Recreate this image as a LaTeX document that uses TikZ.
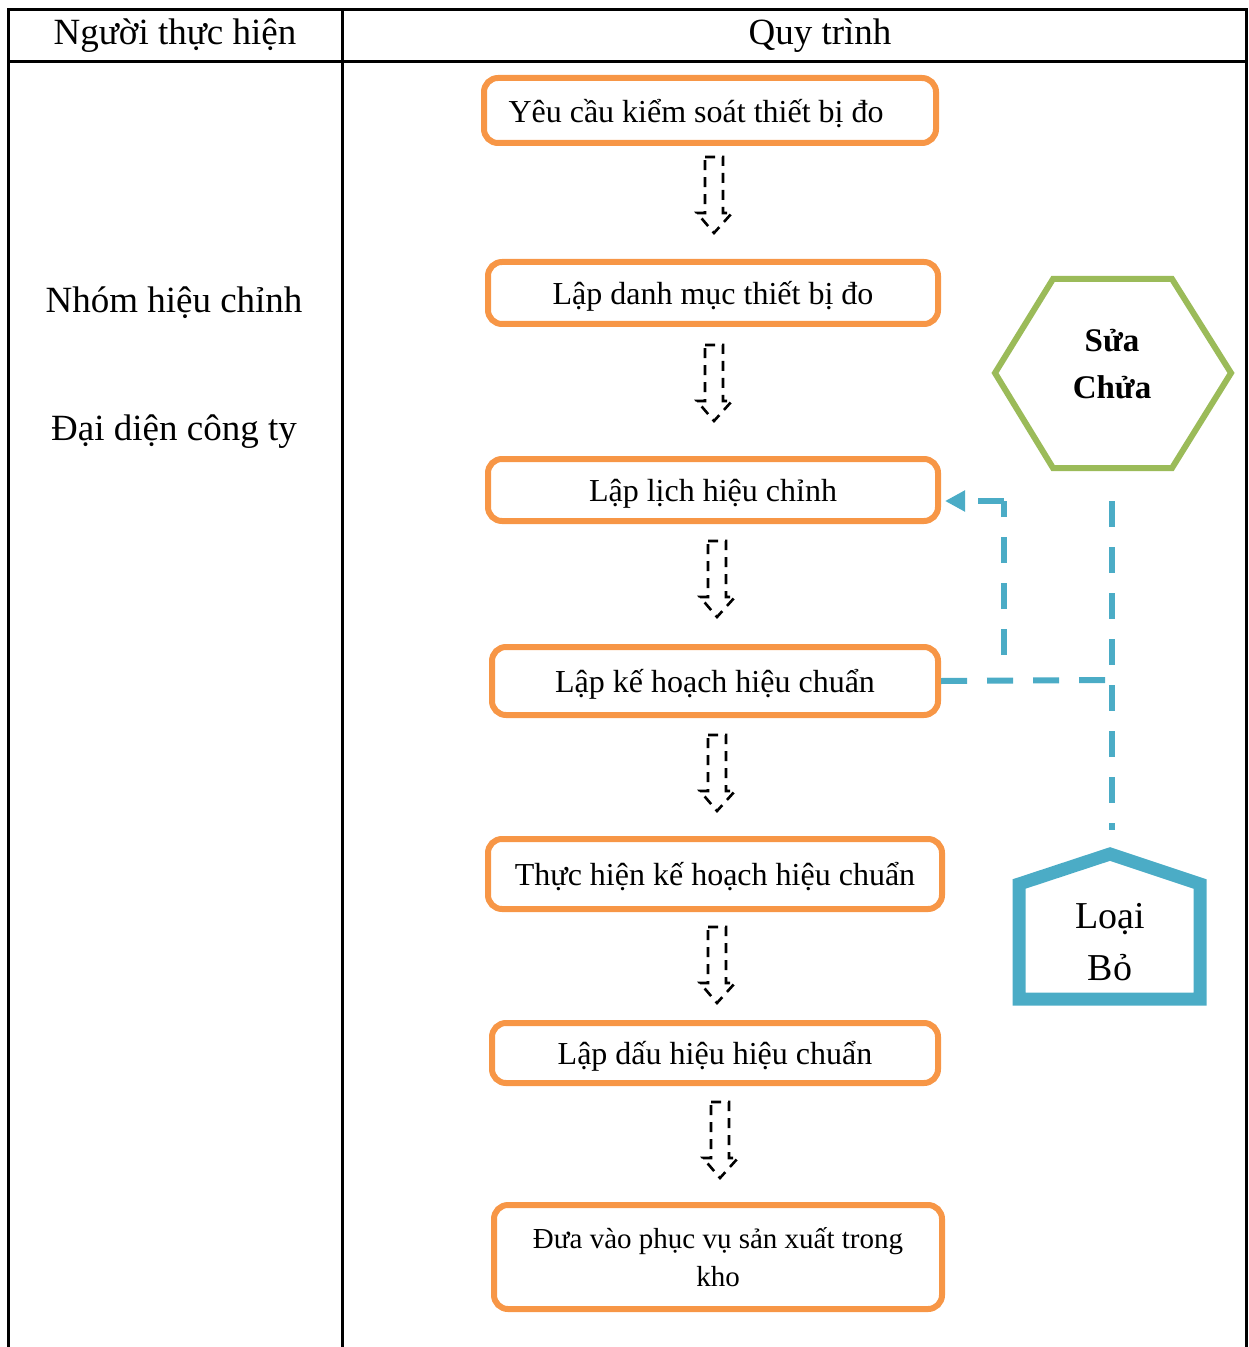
\documentclass[tikz,border=0pt]{standalone}
\usepackage{fontspec}
\setmainfont{Liberation Serif}
\usetikzlibrary{arrows.meta}
\definecolor{boxorange}{HTML}{F79646}
\definecolor{hexgreen}{HTML}{9BBB59}
\definecolor{houseblue}{HTML}{4BACC6}
\tikzset{
  stepbox/.style={draw=boxorange, line width=3pt, rounded corners=7pt, inner sep=0pt, align=center, font=\fontsize{16}{19}\selectfont, text height=15.7pt, text depth=4pt},
  tablerule/.style={line width=1.5pt},
  bigtext/.style={font=\fontsize{18.5}{22}\selectfont, inner sep=0pt},
  bluedash/.style={draw=houseblue, line width=3pt, dash pattern=on 13pt off 10pt},
  pics/darrow/.style={code={\draw[line width=1.3pt, dash pattern=on 5pt off 3.5pt] (-9,0) -- (9,0) -- (9,56) -- (18,56) -- (0,76) -- (-17,56) -- (-9,56) -- cycle;}},
}
\begin{document}
\begin{tikzpicture}[x=0.5pt,y=-0.5pt]
\useasboundingbox (0,0) rectangle (1248,1347);
% table
\draw[tablerule] (8,1347) -- (8,10) -- (1246,10) -- (1246,1347);
\draw[tablerule] (8,62) -- (1246,62);
\draw[tablerule] (342,10) -- (342,1347);
\node[bigtext] (hdr1) at (175,36) {Người thực hiện};
\node[bigtext] (hdr2) at (820,36) {Quy trình};
\node[bigtext] (p1) at (174,303) {Nhóm hiệu chỉnh};
\node[bigtext] (p2) at (174,432) {Đại diện công ty};
% boxes
\node[stepbox, minimum width=226pt, minimum height=32.5pt] (b1) at (710,110.5) {Yêu cầu kiểm soát thiết bị đo\kern14pt};
\node[stepbox, minimum width=225pt, minimum height=31pt] (b2) at (713,293) {Lập danh mục thiết bị đo};
\node[stepbox, minimum width=225pt, minimum height=31pt] (b3) at (713,490) {Lập lịch hiệu chỉnh};
\node[stepbox, minimum width=223pt, minimum height=34pt] (b4) at (715,681) {Lập kế hoạch hiệu chuẩn};
\node[stepbox, minimum width=227pt, minimum height=35pt] (b5) at (715,874) {Thực hiện kế hoạch hiệu chuẩn};
\node[stepbox, minimum width=223pt, minimum height=30pt] (b6) at (715,1053) {Lập dấu hiệu hiệu chuẩn};
\node[stepbox, text height=, text depth=, minimum width=224pt, minimum height=52pt, font=\fontsize{14.5}{19}\selectfont] (b7) at (718,1257) {Đưa vào phục vụ sản xuất trong\\kho};
% dashed block arrows
\pic at (714,157) {darrow};
\pic at (714,345) {darrow};
\pic at (717,541) {darrow};
\pic at (717,735) {darrow};
\pic at (717,927) {darrow};
\pic at (720,1102) {darrow};
% hexagon
\draw[draw=hexgreen, line width=3pt] (995,373) -- (1053,279) -- (1172,279) -- (1231,373) -- (1172,468) -- (1053,468) -- cycle;
\node[font=\bfseries\fontsize{16.5}{23.5}\selectfont, align=center, inner sep=0pt] (sua) at (1112,364) {Sửa\\Chửa};
% house
\draw[draw=houseblue, line width=6.5pt, miter limit=10] (1019,999) -- (1019,884) -- (1110,854) -- (1200,884) -- (1200,999) -- cycle;
\node[font=\fontsize{19}{26}\selectfont, align=center, inner sep=0pt] (loai) at (1110,942) {Loại\\Bỏ};
% connectors
\coordinate (hexbot) at (1112,501);
\coordinate (housetop) at (1112,830);
\coordinate (junc) at (1110,680);
\coordinate (split) at (1003.5,655);
\coordinate (bend) at (1003.5,501);
\coordinate (b3in) at ([yshift=-5.5pt]b3.east);
\draw[bluedash] (hexbot) -- (housetop);
\draw[bluedash] (b4.east) -- (junc);
\draw[bluedash] (split) -- (bend);
\draw[bluedash, -{Triangle[length=10pt,width=10pt]}, shorten >=2pt] (bend) -- (b3in);
\end{tikzpicture}
\end{document}
